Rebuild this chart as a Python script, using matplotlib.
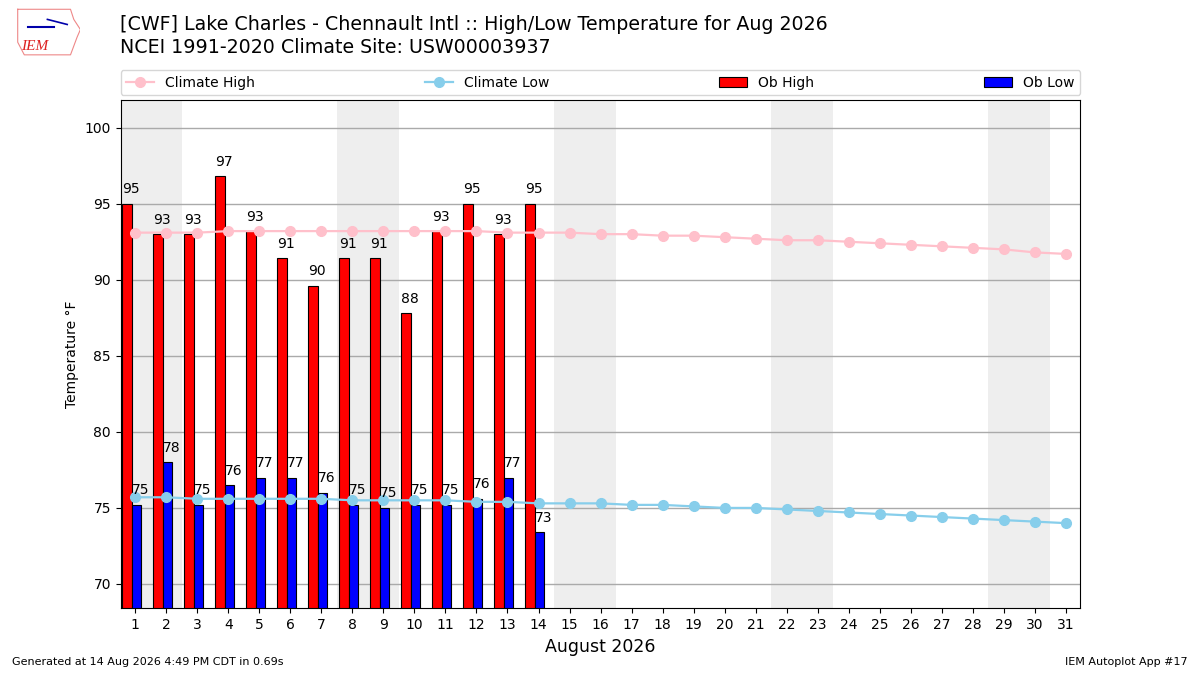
import matplotlib
matplotlib.use("Agg")
import matplotlib.pyplot as plt
import numpy as np

# observed daily values (F) for Aug 2026, through the 14th
ob_days = list(range(1, 15))
ob_high = [95, 93, 93, 96.8, 93.2, 91.4, 89.6, 91.4, 91.4, 87.8, 93.2, 95, 93, 95]
ob_low = [75.2, 78, 75.2, 76.5, 77, 77, 76, 75.2, 75, 75.2, 75.2, 75.6, 77, 73.4]

# NCEI 1991-2020 daily normals
days = list(range(1, 32))
clim_high = [93.1, 93.1, 93.1, 93.2, 93.2, 93.2, 93.2, 93.2, 93.2, 93.2,
             93.2, 93.2, 93.1, 93.1, 93.1, 93.0, 93.0, 92.9, 92.9, 92.8,
             92.7, 92.6, 92.6, 92.5, 92.4, 92.3, 92.2, 92.1, 92.0, 91.8, 91.7]
clim_low = [75.7, 75.7, 75.6, 75.6, 75.6, 75.6, 75.6, 75.5, 75.5, 75.5,
            75.5, 75.4, 75.4, 75.3, 75.3, 75.3, 75.2, 75.2, 75.1, 75.0,
            75.0, 74.9, 74.8, 74.7, 74.6, 74.5, 74.4, 74.3, 74.2, 74.1, 74.0]
weekends = [1, 8, 15, 22, 29]

fig = plt.figure(figsize=(12, 6.75), dpi=100)
ax = fig.add_axes([0.1006, 0.0988, 0.7997, 0.7526])

for d in weekends:
    ax.axvspan(d - 0.5, d + 1.5, color="#eeeeee", zorder=0, lw=0)

x = np.array(ob_days)
ax.bar(x - 0.42, ob_high, width=0.3, align="edge", fc="red", ec="black",
       lw=0.8, label="Ob High", zorder=2)
ax.bar(x - 0.12, ob_low, width=0.3, align="edge", fc="blue", ec="black",
       lw=0.8, label="Ob Low", zorder=2)
for d, hi, lo in zip(ob_days, ob_high, ob_low):
    ax.text(d - 0.42, hi + 0.5, "%.0f" % hi, ha="left", va="bottom",
            fontsize=10, zorder=4)
    ax.text(d - 0.12, lo + 0.5, "%.0f" % lo, ha="left", va="bottom",
            fontsize=10, zorder=4)

ax.plot(days, clim_high, color="pink", marker="o", ms=7, lw=1.6,
        label="Climate High", zorder=3)
ax.plot(days, clim_low, color="skyblue", marker="o", ms=7, lw=1.6,
        label="Climate Low", zorder=3)

ax.set_xlim(0.53, 31.47)
ax.set_ylim(min(ob_low) - 5, max(ob_high) + 5)
ax.set_xticks(days)
ax.set_yticks(range(70, 101, 5))
ax.tick_params(labelsize=10)
ax.yaxis.grid(True, color="#aaaaaa", lw=1)
ax.set_axisbelow(True)
ax.set_xlabel("August 2026", fontsize=12.5)
ax.set_ylabel("Temperature \u00b0F", fontsize=10)

h, l = ax.get_legend_handles_labels()
order = [l.index(n) for n in ["Climate High", "Climate Low", "Ob High", "Ob Low"]]
ax.legend([h[i] for i in order], [l[i] for i in order], ncol=4,
          loc="lower left", bbox_to_anchor=(0, 1.01, 1, 0.05), mode="expand",
          fontsize=10, borderaxespad=0)

fig.text(0.1, 0.964, "[CWF] Lake Charles - Chennault Intl :: High/Low Temperature for Aug 2026",
         fontsize=13.7, va="center")
fig.text(0.1, 0.93, "NCEI 1991-2020 Climate Site: USW00003937", fontsize=13.7, va="center")
fig.text(0.01, 0.015, "Generated at 14 Aug 2026 4:49 PM CDT in 0.69s", fontsize=8)
fig.text(0.99, 0.015, "IEM Autoplot App #17", fontsize=8, ha="right")

# rough stand-in for the IEM logo
logo = fig.add_axes([0.012, 0.915, 0.055, 0.075])
logo.set_xlim(0, 1)
logo.set_ylim(0, 1)
logo.axis("off")
logo.plot([0.05, 0.85, 0.9, 1.0, 0.95, 0.85, 0.15, 0.05, 0.05],
          [0.95, 0.95, 0.75, 0.55, 0.4, 0.05, 0.05, 0.3, 0.95],
          color="#e88", lw=0.8)
logo.text(0.3, 0.22, "IEM", color="#d22", fontsize=11, style="italic",
          family="Liberation Serif", ha="center", va="center")
logo.plot([0.2, 0.6], [0.6, 0.6], color="#00a", lw=1.5)
logo.plot([0.5, 0.8], [0.75, 0.65], color="#00a", lw=1.2)

fig.savefig("out.png", dpi=100)
